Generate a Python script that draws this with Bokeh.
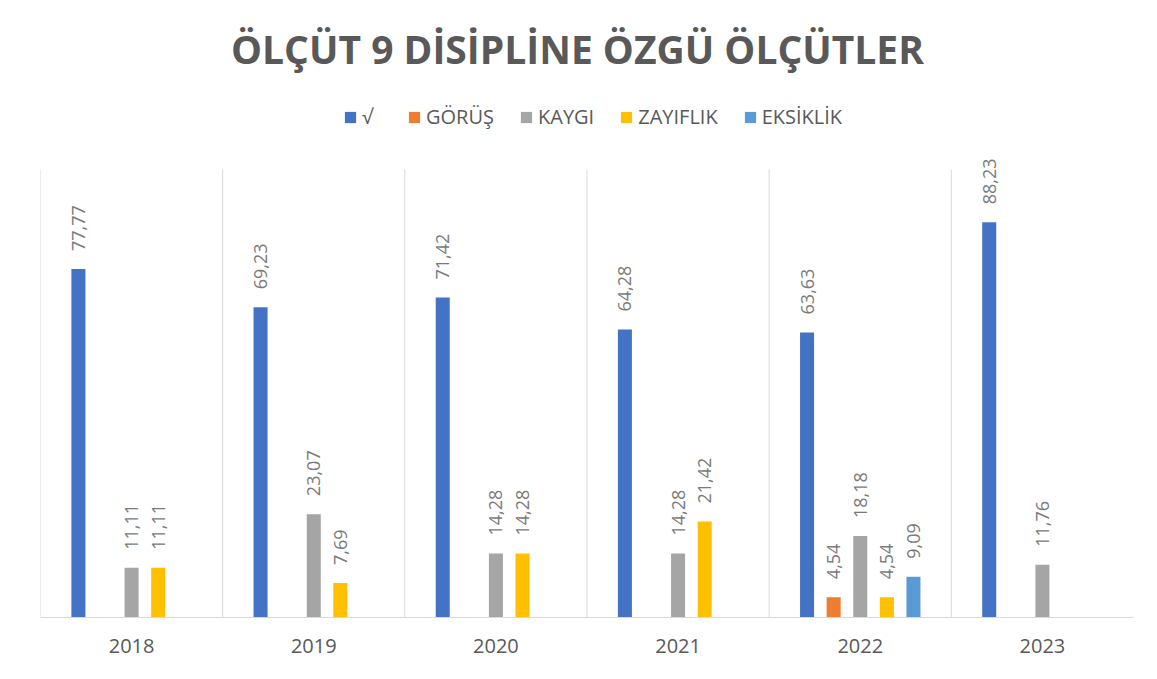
import numpy as np
from bokeh.plotting import figure
from bokeh.models import ColumnDataSource, Legend, LegendItem, FixedTicker, Range1d, Label
from bokeh.embed import file_html
from bokeh.resources import INLINE
from bokeh.core.properties import value

# ---- data ----
years = ["2018", "2019", "2020", "2021", "2022", "2023"]
series_names = ["√", "GÖRÜŞ", "KAYGI", "ZAYIFLIK", "EKSİKLİK"]
v_onay = [77.77, 69.23, 71.42, 64.28, 63.63, 88.23]
v_gorus = [None, None, None, None, 4.54, None]
v_kaygi = [11.11, 23.07, 14.28, 14.28, 18.18, 11.76]
v_zayiflik = [11.11, 7.69, 14.28, 21.42, 4.54, None]
v_eksiklik = [None, None, None, None, 9.09, None]
series_values = [v_onay, v_gorus, v_kaygi, v_zayiflik, v_eksiklik]
colors = ["#4472C4", "#ED7D31", "#A5A5A5", "#FFC000", "#5B9BD5"]
title_text = "ÖLÇÜT 9 DİSİPLİNE ÖZGÜ ÖLÇÜTLER"

FONT = "Open Sans"
TXT = "#595959"
GRID = "#d9d9d9"

W, H = 1150, 676
BL, BR, BT, BB = 40, 17, 0, 59
FW, FH = W - BL - BR, H - BT - BB          # frame size in px
PLOT_H = 448                                # px used by 0..100
Y_MAX = 100.0
y_top = Y_MAX * FH / PLOT_H

n = len(years)
centers = np.arange(n) + 0.5
slot = 0.146
bar_w = 0.077

p = figure(width=W, height=H, output_backend="svg", toolbar_location=None,
           x_range=Range1d(0, n), y_range=Range1d(0, y_top),
           min_border_left=BL, min_border_right=BR, min_border_bottom=BB,
           min_border_top=BT)

# category separator lines (vertical grid, 0..100 only)
bounds = np.arange(n).astype(float)
p.segment(x0=bounds, y0=np.zeros(n), x1=bounds, y1=np.full(n, Y_MAX),
          line_color=GRID, line_width=1)

items = []
for k, (name, vals, col) in enumerate(zip(series_names, series_values, colors)):
    off = (k - 2) * slot
    xs, tops, labels = [], [], []
    for i, v in enumerate(vals):
        if v is None:
            continue
        xs.append(centers[i] + off)
        tops.append(v)
        labels.append(f"{v:.2f}".replace(".", ","))
    src = ColumnDataSource(dict(x=xs, top=tops, label=labels))
    r = p.vbar(x="x", top="top", width=bar_w, source=src, fill_color=col,
               line_color=None)
    p.text(x="x", y="top", text="label", source=src, angle=np.pi / 2,
           text_align="left", text_baseline="middle", y_offset=-18,
           text_font=value(FONT), text_font_size="18px", text_color="#7a7a7a")
    items.append(LegendItem(label=name, renderers=[r]))

title = Label(x=537, y=FH - 48, x_units="screen", y_units="screen",
              text=title_text, text_font=FONT, text_font_size="39px",
              text_font_style="bold", text_color=TXT, text_align="center",
              text_baseline="alphabetic")
p.add_layout(title)

legend = Legend(items=items, orientation="horizontal",
                location=(303, FH - 130),
                label_text_font=FONT, label_text_font_size="20px",
                label_text_color=TXT, glyph_width=14, glyph_height=14,
                label_standoff=5, spacing=25, padding=0, margin=0,
                label_height=20, border_line_color=None,
                background_fill_alpha=0)
p.add_layout(legend)

p.xaxis.ticker = FixedTicker(ticks=centers.tolist())
p.xaxis.major_label_overrides = {float(c): y for c, y in zip(centers, years)}
p.xaxis.axis_line_color = GRID
p.xaxis.major_tick_line_color = None
p.xaxis.minor_tick_line_color = None
p.xaxis.major_label_text_font = FONT
p.xaxis.major_label_text_font_size = "20px"
p.xaxis.major_label_text_color = TXT
p.xaxis.major_label_standoff = 15

p.yaxis.visible = False
p.ygrid.grid_line_color = None
p.xgrid.grid_line_color = None
p.outline_line_color = None

open("out.html", "w").write(file_html(p, INLINE))
